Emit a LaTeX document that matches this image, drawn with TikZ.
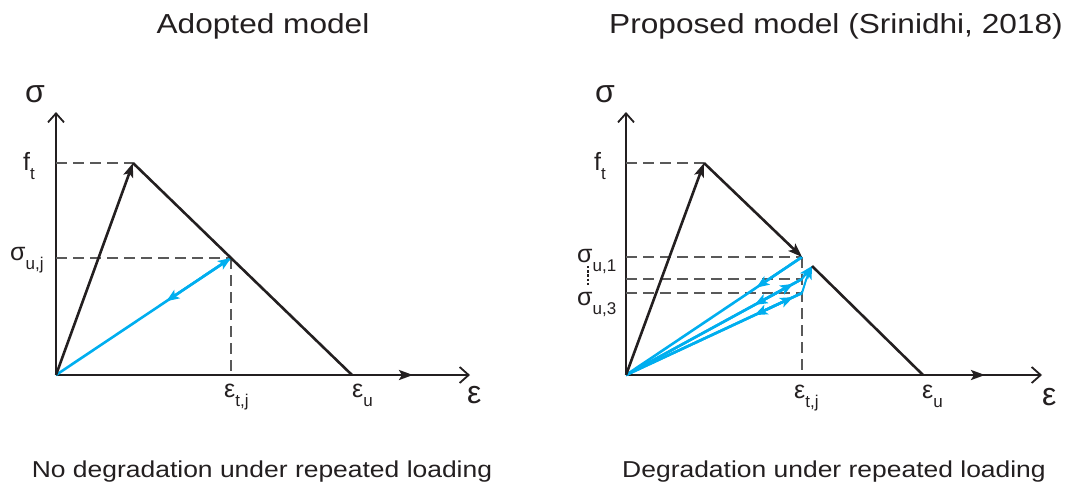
\documentclass[tikz,border=0pt]{standalone}
\usepackage{fontspec}
\setmainfont{Liberation Sans}
\newfontfamily\widefont[FakeStretch=1.15]{Liberation Sans}
\usetikzlibrary{arrows.meta,calc}
\definecolor{cblue}{RGB}{0,174,239}
\definecolor{cblk}{RGB}{35,31,32}
\newcommand{\lowsub}[1]{\raisebox{-9pt}{\fontsize{17}{17}\selectfont #1}}
\begin{document}
\begin{tikzpicture}[x=1pt,y=-1pt,
  axis/.style={cblk,line width=1.8pt,-{Straight Barb[length=9pt,width=16pt]}},
  curve/.style={cblk,line width=2.6pt},
  curvearrow/.style={curve,-{Stealth[length=14pt,width=10pt,inset=3pt]}},
  load/.style={cblue,line width=2.6pt},
  loadarrow/.style={load,-{Stealth[length=13pt,width=10pt,inset=3pt]}},
  guide/.style={black!65,line width=1.1pt,dash pattern=on 11pt off 6pt},
  lbl/.style={inner sep=0pt,anchor=base west,text=cblk,font=\fontsize{25}{25}\selectfont},
  big/.style={inner sep=0pt,anchor=base west,text=cblk,font=\fontsize{32}{32}\selectfont},
  title/.style={inner sep=0pt,anchor=base,text=cblk,font=\widefont\fontsize{27.5}{30}\selectfont},
  caption/.style={inner sep=0pt,anchor=base,text=cblk,font=\widefont\fontsize{23}{26}\selectfont}]
\useasboundingbox (0,0) rectangle (1070,485);

% ---------- left panel ----------
\coordinate (O1) at (56,375);
\coordinate (Y1) at (56,112);
\coordinate (X1) at (470,375);
\coordinate (P1) at (133,163);
\coordinate (U)  at (231,258);
\coordinate (E1) at (352,375);
\coordinate (A1) at (413,375);
\coordinate (FT1) at (56,163);
\coordinate (SU) at (56,258);
\coordinate (ET1) at (231,375);

\draw[axis] (O1) -- (Y1);
\draw[axis] (O1) -- (X1);
\draw[guide] (FT1) -- (P1);
\draw[guide] (SU) -- (U);
\draw[guide] (U) -- (ET1);
\draw[loadarrow] (O1) -- (U);
\draw[loadarrow] (U) -- ($(U)!0.37!(O1)$);
\draw[curvearrow] (O1) -- (P1);
\draw[curve,line join=round] (P1) -- (U) -- (E1);
\draw[curvearrow] (E1) -- (A1);

\node[big] (sig1) at (25,102) {σ};
\node[lbl] (ft1) at (23,170) {f\lowsub{t}};
\node[lbl] (su1) at (10,260) {σ\lowsub{u,j}};
\node[lbl] (et1) at (224,397) {ε\lowsub{t,j}};
\node[lbl] (eu1) at (352,397) {ε\lowsub{u}};
\node[big] (eps1) at (467,403) {ε};

\node[title] (t1) at (263,33) {Adopted model};
\node[caption] (c1) at (262,477) {No degradation under repeated loading};

% ---------- right panel ----------
\coordinate (O2) at (626,375);
\coordinate (Y2) at (626,112);
\coordinate (X2) at (1042,375);
\coordinate (P2) at (704,163);
\coordinate (U1) at (802,257);
\coordinate (U2) at (802,279);
\coordinate (U3) at (802,293);
\coordinate (M)  at (806,280);
\coordinate (K)  at (812,266);
\coordinate (E2) at (923,375);
\coordinate (A2) at (985,375);
\coordinate (FT2) at (626,163);
\coordinate (S1) at (626,257);
\coordinate (S2) at (626,279);
\coordinate (S3) at (626,293);
\coordinate (ET2) at (802,375);
\coordinate (DT) at (588,266);
\coordinate (DB) at (588,285);

\draw[axis] (O2) -- (Y2);
\draw[axis] (O2) -- (X2);
\draw[guide] (FT2) -- (P2);
\draw[guide] (S1) -- (U1);
\draw[guide] (S2) -- (U2);
\draw[guide] (S3) -- (U3);
\draw[guide] (U1) -- (ET2);

\draw[load] (O2) -- (U1);
\draw[loadarrow] (U1) -- ($(U1)!0.26!(O2)$);
\draw[load] (O2) -- (U2);
\draw[loadarrow] (O2) -- ($(O2)!0.95!(U2)$);
\draw[loadarrow] (U2) -- ($(U2)!0.27!(O2)$);
\draw[load] (O2) -- (U3);
\draw[loadarrow] (O2) -- ($(O2)!0.95!(U3)$);
\draw[loadarrow] (U3) -- ($(U3)!0.27!(O2)$);
\draw[loadarrow,line width=2pt] (U2) -- (K);
\draw[loadarrow,line width=2pt,line join=round] (U3) -- (M) -- (K);

\draw[curvearrow] (O2) -- (P2);
\draw[curvearrow] (P2) -- (U1);
\draw[curve] (K) -- (E2);
\draw[curvearrow] (E2) -- (A2);

\draw[cblk,line width=2.4pt,dash pattern=on 2.4pt off 1.8pt] (DT) -- (DB);

\node[big] (sig2) at (595,102) {σ};
\node[lbl] (ft2) at (594,170) {f\lowsub{t}};
\node[lbl] (su21) at (577,262) {σ\lowsub{u,1}};
\node[lbl] (su23) at (577,305) {σ\lowsub{u,3}};
\node[lbl] (et2) at (794,398) {ε\lowsub{t,j}};
\node[lbl] (eu2) at (922,398) {ε\lowsub{u}};
\node[big] (eps2) at (1042,405) {ε};

\node[title] (t2) at (836,33) {Proposed model (Srinidhi, 2018)};
\node[caption] (c2) at (834,477) {Degradation under repeated loading};
\end{tikzpicture}
\end{document}
